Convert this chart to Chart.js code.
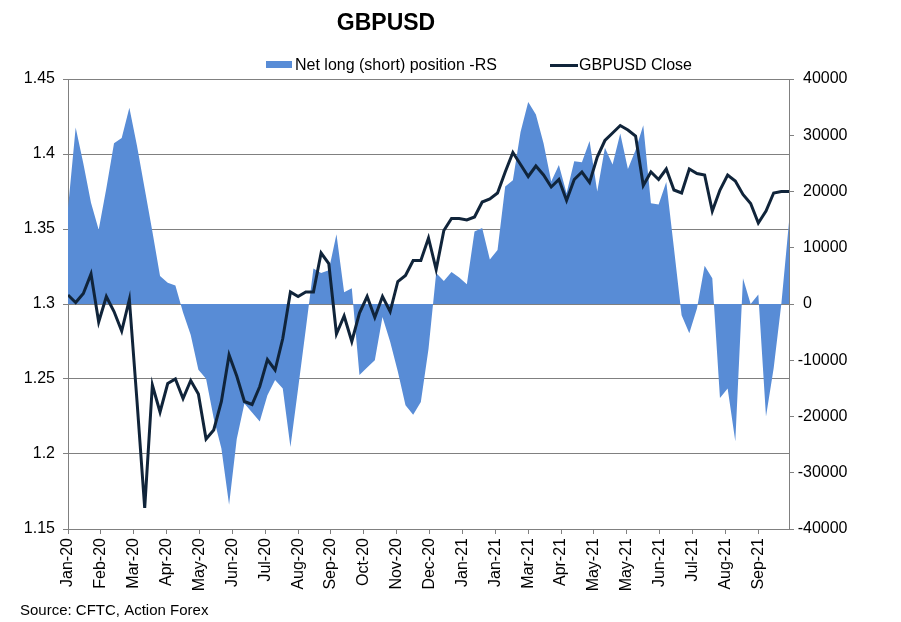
<!DOCTYPE html>
<html>
<head>
<meta charset="utf-8">
<script src="https://cdn.jsdelivr.net/npm/chart.js@4.4.1/dist/chart.umd.min.js"></script>
<style>
    html, body { margin: 0; padding: 0; background: #fff; }
    #wrap { width: 901px; height: 622px; }
</style>
</head>
<body>
<div id="wrap"><canvas id="chart" width="901" height="622"></canvas></div>
<script>
// weekly COT dates starting 7 Jan 2020, x = days since first report
const firstReport = "2020-01-07";
const tickLabels = ["Jan-20", "Feb-20", "Mar-20", "Apr-20", "May-20", "Jun-20", "Jul-20", "Aug-20",
    "Sep-20", "Oct-20", "Nov-20", "Dec-20", "Jan-21", "Jan-21", "Mar-21", "Apr-21", "May-21",
    "May-21", "Jun-21", "Jul-21", "Aug-21", "Sep-21"];

const gbpusdClose = [
    1.306, 1.301, 1.307, 1.320, 1.288, 1.305, 1.295, 1.282, 1.303, 1.235,
    1.164, 1.246, 1.228, 1.247, 1.250, 1.237, 1.249, 1.240, 1.210, 1.216,
    1.235, 1.266, 1.252, 1.235, 1.233, 1.245, 1.263, 1.256, 1.277, 1.308,
    1.305, 1.308, 1.308, 1.334, 1.327, 1.280, 1.292, 1.275, 1.294, 1.305,
    1.291, 1.305, 1.295, 1.315, 1.319, 1.329, 1.329, 1.344, 1.323, 1.349,
    1.357, 1.357, 1.356, 1.358, 1.368, 1.370, 1.374, 1.388, 1.401, 1.393,
    1.385, 1.392, 1.386, 1.378, 1.383, 1.369, 1.383, 1.388, 1.381, 1.398,
    1.409, 1.414, 1.419, 1.416, 1.412, 1.379, 1.388, 1.383, 1.390, 1.376,
    1.374, 1.390, 1.387, 1.386, 1.362, 1.376, 1.386, 1.382, 1.373, 1.367,
    1.354, 1.362, 1.374, 1.375, 1.375
];

const netPosition = [
    17000, 31400, 25000, 18000, 13200, 20600, 28600, 29500, 34900, 28100,
    20500, 12900, 5000, 3800, 3300, -1500, -5500, -11700, -13300, -20300,
    -25700, -35700, -24000, -17700, -19300, -20900, -16200, -13500, -15000, -25400,
    -15000, -4500, 6300, 5500, 6000, 12400, 2100, 2800, -12600, -11300,
    -10000, -2300, -6700, -12000, -18000, -19700, -17400, -8000, 5500, 4100,
    5700, 4700, 3500, 12900, 13500, 7900, 9600, 20900, 22000, 30600,
    35900, 33700, 28600, 21800, 24700, 19700, 25400, 25200, 29000, 20000,
    27800, 24800, 30300, 24000, 27400, 31800, 17900, 17700, 21700, 9900,
    -2000, -5200, -800, 6800, 4600, -16700, -15000, -24400, 4600, 0,
    1700, -20000, -11400, 0, 14600
];

const areaColor = "#588cd6";
const lineColor = "#10243a";
const axisColor = "#808080";
const fontFamily = "'Liberation Sans', Arial, sans-serif";

function toPoints(values) {
    return values.map((value, week) => ({x: week * 7, y: value}));
}

// title, legend, right-hand labels and source note drawn like the Excel original
const decorations = {
    id: "decorations",
    afterDraw(chart) {
        const {ctx} = chart;
        ctx.save();
        ctx.fillStyle = "#000";
        ctx.textBaseline = "alphabetic";

        ctx.font = "bold 23px " + fontFamily;
        ctx.textAlign = "center";
        ctx.fillText("GBPUSD", 386, 30);

        ctx.textAlign = "left";
        ctx.font = "16px " + fontFamily;
        ctx.fillStyle = areaColor;
        ctx.fillRect(266, 61, 26, 7);
        ctx.fillStyle = "#000";
        ctx.fillText(chart.data.datasets[1].label, 295, 70);

        ctx.strokeStyle = lineColor;
        ctx.lineWidth = 3;
        ctx.beginPath();
        ctx.moveTo(550, 65.5);
        ctx.lineTo(578, 65.5);
        ctx.stroke();
        ctx.fillText(chart.data.datasets[0].label, 579, 70);

        // right axis: digits line up, minus sign hangs to the left
        const right = chart.scales.y1;
        const labelX = right.left + 14;
        const minusWidth = ctx.measureText("-").width;
        ctx.textBaseline = "middle";
        right.ticks.forEach(tick => {
            const y = right.getPixelForValue(tick.value);
            const x = tick.value < 0 ? labelX - minusWidth : labelX;
            ctx.fillText(String(tick.value), x, y);
        });

        ctx.textBaseline = "alphabetic";
        ctx.font = "15px " + fontFamily;
        ctx.fillText("Source: CFTC, Action Forex", 20, 615);
        ctx.restore();
    }
};

function renderChart() {
    const canvas = document.querySelector("#chart");
    new Chart(canvas, {
        type: "line",
        data: {
            datasets: [
                {
                    label: "GBPUSD Close",
                    data: toPoints(gbpusdClose),
                    yAxisID: "y",
                    borderColor: lineColor,
                    borderWidth: 3,
                    pointRadius: 0,
                    fill: false,
                    order: 1,
                },
                {
                    label: "Net long (short) position -RS",
                    data: toPoints(netPosition),
                    yAxisID: "y1",
                    borderWidth: 0,
                    borderColor: areaColor,
                    backgroundColor: areaColor,
                    pointRadius: 0,
                    fill: "origin",
                    order: 2,
                }
            ]
        },
        options: {
            responsive: false,
            animation: false,
            layout: {padding: {top: 79, left: 0, right: 0, bottom: 0}},
            plugins: {
                legend: {display: false},
                title: {display: false},
                tooltip: {enabled: false},
            },
            scales: {
                x: {
                    type: "linear",
                    min: 0,
                    max: (gbpusdClose.length - 1) * 7,
                    afterBuildTicks: scale => {
                        scale.ticks = tickLabels.map((_, k) => ({value: k * 30}));
                    },
                    afterFit: scale => { scale.height = 93; },
                    grid: {drawOnChartArea: false, drawTicks: true, tickLength: 5, color: axisColor},
                    border: {color: axisColor},
                    ticks: {
                        autoSkip: false,
                        maxRotation: 90,
                        minRotation: 90,
                        padding: 4,
                        color: "#000",
                        font: {family: fontFamily, size: 16},
                        callback: value => tickLabels[Math.round(value / 30)],
                    }
                },
                y: {
                    position: "left",
                    min: 1.15,
                    max: 1.45,
                    afterFit: scale => { scale.width = 68; },
                    grid: {color: axisColor, tickLength: 5},
                    border: {color: axisColor},
                    ticks: {
                        stepSize: 0.05,
                        padding: 8,
                        color: "#000",
                        font: {family: fontFamily, size: 16},
                        callback: value => String(+value.toFixed(2)),
                    }
                },
                y1: {
                    position: "right",
                    min: -40000,
                    max: 40000,
                    afterFit: scale => { scale.width = 112; },
                    grid: {drawOnChartArea: false, tickLength: 5, color: axisColor},
                    border: {color: axisColor},
                    ticks: {
                        stepSize: 10000,
                        color: "rgba(0,0,0,0)",
                        font: {family: fontFamily, size: 16},
                        callback: value => String(value),
                    }
                }
            }
        },
        plugins: [decorations]
    });
}

window.addEventListener("load", () => {
    renderChart();
});
</script>
</body>
</html>
